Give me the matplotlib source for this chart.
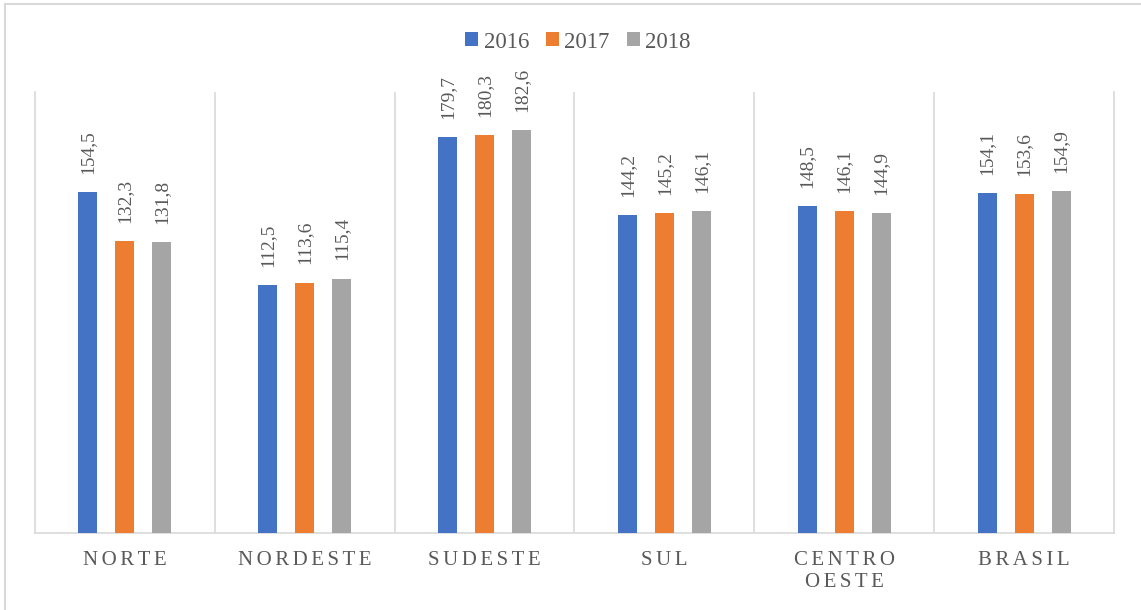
import matplotlib
matplotlib.use("Agg")
import matplotlib.pyplot as plt
from matplotlib.lines import Line2D
import numpy as np

plt.rcParams["font.family"] = ["Liberation Serif", "DejaVu Serif"]

regions = ["NORTE", "NORDESTE", "SUDESTE", "SUL", "CENTRO\nOESTE", "BRASIL"]
years = ["2016", "2017", "2018"]
v2016 = [154.5, 112.5, 179.7, 144.2, 148.5, 154.1]
v2017 = [132.3, 113.6, 180.3, 145.2, 146.1, 153.6]
v2018 = [131.8, 115.4, 182.6, 146.1, 144.9, 154.9]

COLORS = ["#4472C4", "#ED7D31", "#A5A5A5"]
TXT = "#595959"
GRID = "#D9D9D9"


def spaced(s):
    # imitate Excel's character spacing on the category labels
    return "\n".join("\u2006".join(line) for line in s.split("\n"))


fig = plt.figure(figsize=(11.41, 6.10), dpi=100)
ax = fig.add_axes([35 / 1141, 77 / 610, 1079 / 1141, 441 / 610])

x = np.arange(len(regions))
off = 0.2056
w = 0.106
for i, (vals, c) in enumerate(zip([v2016, v2017, v2018], COLORS)):
    pos = x + (i - 1) * off
    ax.bar(pos, vals, w, color=c, label=years[i], zorder=3)
    for p, v in zip(pos, vals):
        ax.annotate(f"{v:.1f}".replace(".", ","), (p, v), xytext=(0, 13),
                    textcoords="offset points", rotation=90, ha="center",
                    va="bottom", fontsize=14, color=TXT)

ax.set_xlim(-0.5, len(regions) - 0.5)
ax.set_ylim(0, 200)
ax.set_yticks([])
ax.set_xticks(x)
ax.set_xticklabels([spaced(r) for r in regions], fontsize=15, color=TXT,
                   linespacing=1.2)
ax.tick_params(axis="x", length=0, pad=13)
ax.set_xticks(np.arange(0.5, len(regions) - 0.5), minor=True)
ax.tick_params(axis="x", which="minor", length=0)
ax.grid(axis="x", which="minor", color=GRID, linewidth=1.2, zorder=0)
for side in ["left", "right", "bottom"]:
    ax.spines[side].set_color(GRID)
    ax.spines[side].set_linewidth(1.2)
ax.spines["top"].set_visible(False)

ax.legend(loc="center", bbox_to_anchor=(578 / 1141, 1 - 42 / 610),
          bbox_transform=fig.transFigure, ncol=3, frameon=False,
          fontsize=16.5, labelcolor=TXT, handlelength=0.55, handleheight=0.55,
          handletextpad=0.25, columnspacing=0.75)

# outer chart frame (left and top edges visible)
fig.add_artist(Line2D([5 / 1141, 5 / 1141], [0, 1 - 4 / 610], color=GRID,
                      linewidth=1.5, transform=fig.transFigure))
fig.add_artist(Line2D([5 / 1141, 1], [1 - 4 / 610, 1 - 4 / 610], color=GRID,
                      linewidth=1.5, transform=fig.transFigure))

fig.savefig("out.png", dpi=100, facecolor="white")
